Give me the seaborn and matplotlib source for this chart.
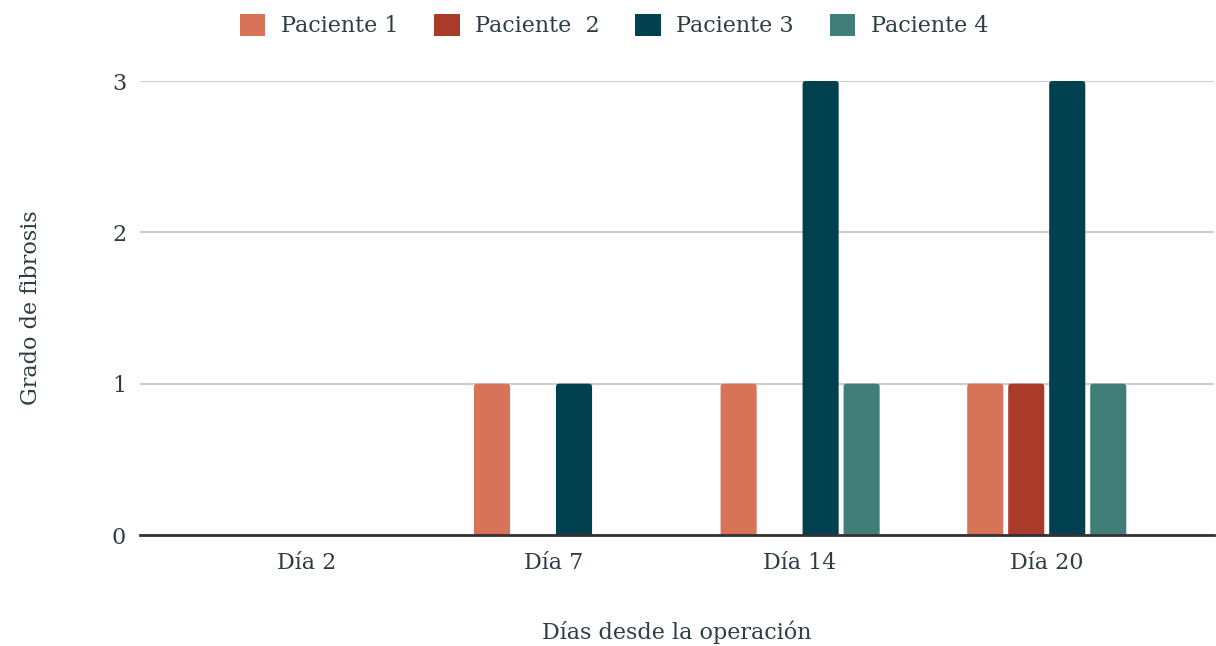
import pandas as pd
import numpy as np
import seaborn as sns
import matplotlib
matplotlib.use("Agg")
import matplotlib.pyplot as plt
from matplotlib.patches import FancyBboxPatch, Patch

# datos
dias = ["Día 2", "Día 7", "Día 14", "Día 20"]
pacientes = ["Paciente 1", "Paciente  2", "Paciente 3", "Paciente 4"]
paciente_1 = [0, 1, 1, 1]
paciente_2 = [0, 0, 0, 1]
paciente_3 = [0, 1, 3, 3]
paciente_4 = [0, 0, 1, 1]
colores = ["#d77356", "#a93b28", "#01414f", "#417e79"]
yticks = [0, 1, 2, 3]

df = pd.DataFrame({
    "dia": dias * 4,
    "paciente": np.repeat(pacientes, len(dias)),
    "grado": paciente_1 + paciente_2 + paciente_3 + paciente_4,
})

sns.set_style("white")
plt.rcParams["font.family"] = ["DejaVu Serif", "DejaVu Sans"]
texto = "#2e3d44"
fs = 16

fig = plt.figure(figsize=(12.16, 6.46), dpi=100)
ax = fig.add_axes([0.1151, 0.1718, 0.883, 0.7028])

sns.barplot(data=df, x="dia", y="grado", hue="paciente", order=dias,
            hue_order=pacientes, palette=colores, width=0.665, gap=0.12,
            linewidth=0, saturation=1, ax=ax, legend=False)

ax.set_xlim(-0.677, 3.677)
ax.set_ylim(0, 3)

# esquinas superiores redondeadas
for p in list(ax.patches):
    h = p.get_height()
    if h <= 0:
        p.remove()
        continue
    x, w = p.get_x(), p.get_width()
    r = FancyBboxPatch((x, -0.05), w, h + 0.05,
                       boxstyle="round,pad=0,rounding_size=0.013",
                       mutation_aspect=1.63, facecolor=p.get_facecolor(),
                       linewidth=0, zorder=p.get_zorder())
    p.remove()
    ax.add_patch(r)

ax.set_yticks(yticks)
ax.set_yticklabels([str(v) for v in yticks])
ax.grid(axis="y", color="#cccccc", linewidth=1.5)
ax.set_axisbelow(True)
for s in ["top", "right", "left"]:
    ax.spines[s].set_visible(False)
ax.spines["bottom"].set_color("#333333")
ax.spines["bottom"].set_linewidth(2)
ax.spines["bottom"].set_zorder(5)
ax.tick_params(axis="both", length=0, labelsize=fs, labelcolor=texto)
ax.tick_params(axis="y", pad=10)
ax.tick_params(axis="x", pad=12)
ax.set_xlabel("Días desde la operación", fontsize=fs, color=texto, labelpad=34)
ax.set_ylabel("Grado de fibrosis", fontsize=fs, color=texto, labelpad=50)

handles = [Patch(facecolor=c, linewidth=0) for c in colores]
fig.legend(handles, pacientes, loc="upper center", bbox_to_anchor=(0.505, 1.01),
           ncol=4, frameon=False, fontsize=fs, labelcolor=texto,
           handlelength=1.15, handleheight=1.15, handletextpad=0.7,
           columnspacing=1.6)

fig.savefig("out.png", dpi=100)
